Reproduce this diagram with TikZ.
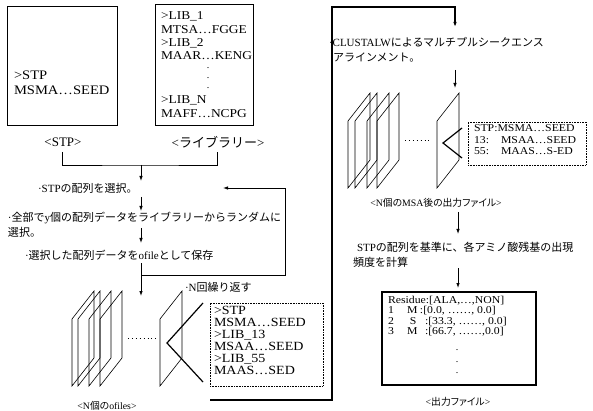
\documentclass[tikz,border=0pt]{standalone}
\usepackage{fontspec}
\setmainfont{Liberation Serif}
\newfontfamily\jpf{Noto Sans CJK JP}
\newfontfamily\jpp[RawFeature={+palt}]{Noto Sans CJK JP}
\newfontfamily\seqf[FakeStretch=1.12]{Liberation Serif}
\newcommand\J[1]{{\jpf #1}}
\newcommand\JP[1]{{\jpp #1}}
\usetikzlibrary{arrows.meta}
\newcommand\sheetat[2]{\draw[sheet] (#1,#2) -- ++(0,-67) -- ++(22,-28) -- ++(0,67) -- cycle;}
\begin{document}
\begin{tikzpicture}[x=1pt,y=-1pt,
  every node/.style={inner sep=0pt, outer sep=0pt},
  frame/.style={draw, line width=0.8pt},
  thickframe/.style={draw, line width=1.6pt},
  dotframe/.style={draw, line width=0.6pt, dash pattern=on 0.7pt off 0.9pt},
  jt/.style={font=\fontsize{11}{15}\selectfont, anchor=west, align=left},
  biglbl/.style={font=\fontsize{13}{15}\selectfont},
  slbl/.style={font=\fontsize{9.8}{11}\selectfont},
  arr/.style={-{Latex[length=5pt,width=3.5pt]}, line width=0.8pt},
  conn/.style={line width=0.9pt},
  sheet/.style={line width=0.6pt},
  vee/.style={line width=1.2pt},
  dotrow/.style={line width=0.9pt, dash pattern=on 0.9pt off 3pt},
  vdot/.style={font=\fontsize{10}{10}\selectfont}]
\useasboundingbox (0,0) rectangle (593,411);

% STP box
\node[frame, minimum width=110pt, minimum height=119pt, anchor=north west] (stpbox) at (7,6) {};
\node[font=\seqf\fontsize{13}{15}\selectfont, align=left, anchor=west] (stptxt) at (14,83) {>STP\\MSMA…SEED};

% library box
\node[frame, minimum width=98pt, minimum height=121pt, anchor=north west] (libbox) at (155,4) {};
\tikzset{lib/.style={font=\seqf\fontsize{12}{13}\selectfont, anchor=west}}
\node[lib] (lib1) at (161,16) {>LIB\_1};
\node[lib] (lib2) at (161,29.5) {MTSA…FGGE};
\node[lib] (lib3) at (161,43) {>LIB\_2};
\node[lib] (lib4) at (161,56) {MAAR…KENG};
\node[vdot] (ld1) at (208,68.5) {.};
\node[vdot] (ld2) at (208,78.5) {.};
\node[vdot] (ld3) at (208,88.5) {.};
\node[lib] (lib5) at (161,100.5) {>LIB\_N};
\node[lib] (lib6) at (161,114) {MAFF…NCPG};

\node[biglbl] (stplbl) at (63,142) {<STP>};
\node[biglbl] (liblbl) at (218,142) {<\J{ライブラリー}>};

% merge
\coordinate (bl) at (62,152);
\coordinate (br) at (217,152);
\coordinate (join) at (141,165);
\draw[conn] (bl) |- (join) -| (br);
\coordinate (a1e) at (141,181);
\draw[arr] (join) -- (a1e);

\node[jt] (sel1) at (38,188) {·STP\J{の配列を選択。}};
\coordinate (a2s) at (141,197);
\coordinate (a2e) at (141,211);
\draw[arr] (a2s) -- (a2e);
\node[jt] (rand) at (8,224.5) {·\J{全部で}y\J{個の配列データをライブラリーからランダムに}\\\J{選択。}};
\coordinate (a3s) at (141,228);
\coordinate (a3e) at (141,243);
\draw[arr] (a3s) -- (a3e);
\node[jt] (save) at (25,255) {·\J{選択した配列データを}ofile\J{として保存}};
\coordinate (a4s) at (141,263);
\coordinate (a4e) at (141,296);
\draw[arr] (a4s) -- (a4e);
\coordinate (lp) at (141,275);
\coordinate (lc) at (285,188);
\coordinate (le) at (223,188);
\draw[arr] (lp) -| (lc) -- (le);
\node[jt] (rep) at (185,287) {·N\J{回繰り返す}};

% ofiles
\sheetat{72}{386}
\sheetat{78}{386}
\sheetat{89}{386}
\sheetat{100}{386}
\sheetat{160}{386}
\coordinate (od1) at (128,338);
\coordinate (od2) at (157,338);
\draw[dotrow] (od1) -- (od2);
\coordinate (ov1) at (203,303);
\coordinate (ov2) at (167,343);
\coordinate (ov3) at (203,382);
\draw[vee] (ov1) -- (ov2) -- (ov3);
\node[dotframe, minimum width=113pt, minimum height=83pt, anchor=north west] (ofbox) at (210,303) {};
\node[font=\seqf\fontsize{12.5}{12}\selectfont, align=left, anchor=north west] (oftxt) at (214,306) {>STP\\MSMA…SEED\\>LIB\_13\\MSAA…SEED\\>LIB\_55\\MAAS…SED};
\node[slbl] (oflbl) at (107,406) {<N\JP{個の}ofiles>};

% return line
\coordinate (r0) at (210,400);
\coordinate (r1) at (332,7);
\coordinate (r2) at (455,27);
\draw[arr, line width=1.1pt] (r0) -| (r1) -| (r2);

\node[jt] (clust) at (329,49.5) {·CLUSTALW\J{によるマルチプルシークエンス}\\\hspace*{4pt}\J{アラインメント。}};
\coordinate (a5s) at (455,70);
\coordinate (a5e) at (455,88);
\draw[arr] (a5s) -- (a5e);

% MSA files
\sheetat{348}{188}
\sheetat{355}{188}
\sheetat{367}{188}
\sheetat{377}{188}
\sheetat{437}{188}
\coordinate (md1) at (405,140);
\coordinate (md2) at (430,140);
\draw[dotrow] (md1) -- (md2);
\coordinate (mv1) at (462,128);
\coordinate (mv2) at (443,143);
\coordinate (mv3) at (462,158);
\draw[vee] (mv1) -- (mv2) -- (mv3);
\node[dotframe, minimum width=118pt, minimum height=43pt, anchor=north west] (msabox) at (468,122) {};
\node[font=\seqf\fontsize{10.5}{11.5}\selectfont, align=left, anchor=north west] (msatxt) at (474,125) {STP:MSMA…SEED\\\makebox[27pt][l]{13:}MSAA…SEED\\\makebox[27pt][l]{55:}MAAS…S-ED};
\node[slbl] (msalbl) at (436,203) {<N\JP{個の}MSA\JP{後の出力ファイル}>};

\coordinate (a6s) at (458,212);
\coordinate (a6e) at (458,234);
\draw[arr] (a6s) -- (a6e);
\node[jt] (calc) at (353,254.5) {\hspace*{4pt}STP\J{の配列を基準に、各アミノ酸残基の出現}\\\J{頻度を計算}};
\coordinate (a7s) at (458,268);
\coordinate (a7e) at (458,288);
\draw[arr] (a7s) -- (a7e);

% output box
\node[thickframe, minimum width=154pt, minimum height=93pt, anchor=north west] (outbox) at (382,292) {};
\node[font=\seqf\fontsize{10.5}{10.5}\selectfont, align=left, anchor=north west] (outtxt) at (388,296) {Residue:[ALA,…,NON]\\\makebox[19pt][l]{1}\makebox[13pt][l]{M}:[0.0, ……, 0.0]\\\makebox[22pt][l]{2}\makebox[15pt][l]{S}:[33.3, ……, 0.0]\\\makebox[19pt][l]{3}\makebox[18pt][l]{M}:[66.7, ……,0.0]};
\node[vdot] (od3) at (457,350) {.};
\node[vdot] (od4) at (457,362) {.};
\node[vdot] (od5) at (457,373) {.};
\node[slbl] (outlbl) at (458,402) {<\JP{出力ファイル}>};
\end{tikzpicture}
\end{document}
